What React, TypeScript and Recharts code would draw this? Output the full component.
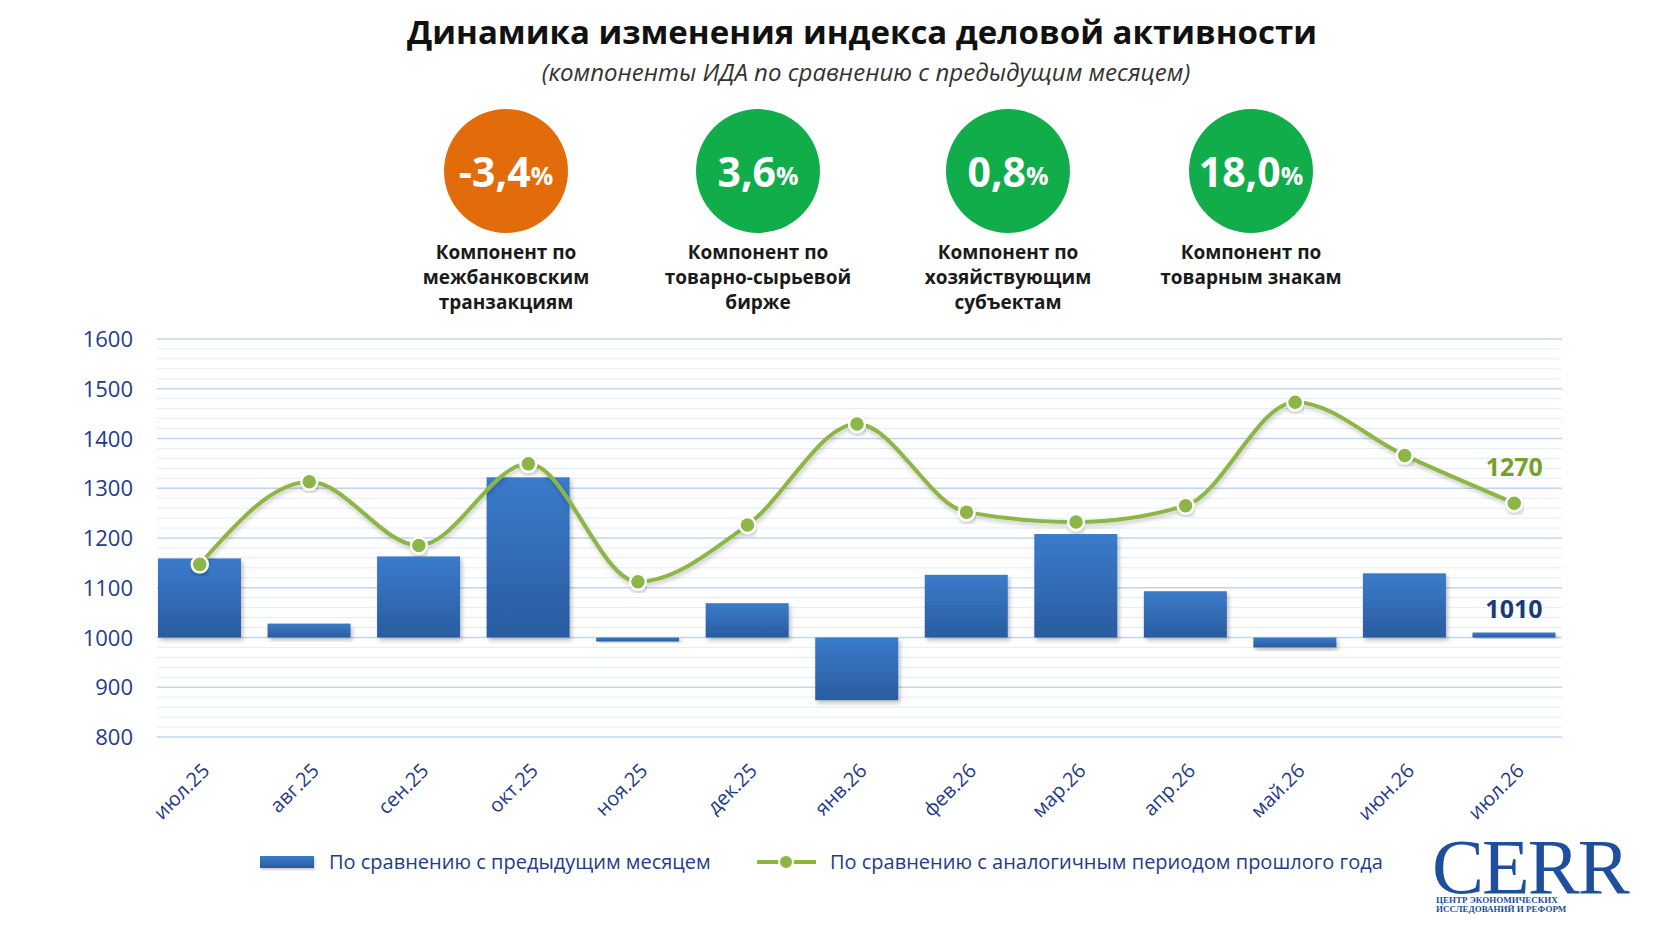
import React from 'react';
import { ComposedChart, Bar, Line, XAxis, YAxis, CartesianGrid, LabelList } from 'recharts';

// Месяцы и значения
const months = ['июл.25', 'авг.25', 'сен.25', 'окт.25', 'ноя.25', 'дек.25', 'янв.26', 'фев.26', 'мар.26', 'апр.26', 'май.26', 'июн.26', 'июл.26'];
const momValues = [1159, 1028, 1163, 1322, 992, 1069, 874, 1126, 1208, 1093, 980, 1129, 1010];
const yoyValues = [1147, 1313, 1185, 1349, 1112, 1226, 1429, 1252, 1232, 1265, 1473, 1366, 1270];
const yMajorTicks = [800, 900, 1000, 1100, 1200, 1300, 1400, 1500, 1600];
const BASE = 1000;

// Компоненты ИДА
const kpiValues = ['-3,4', '3,6', '0,8', '18,0'];
const kpiColors = ['#e36c0a', '#12ad4b', '#12ad4b', '#12ad4b'];
const kpiLabels = [
    ['Компонент по', 'межбанковским', 'транзакциям'],
    ['Компонент по', 'товарно-сырьевой', 'бирже'],
    ['Компонент по', 'хозяйствующим', 'субъектам'],
    ['Компонент по', 'товарным знакам'],
];
const kpiCenters = [506, 758, 1008, 1251];

const legendLabels = ['По сравнению с предыдущим месяцем', 'По сравнению с аналогичным периодом прошлого года'];

const W = 1672;
const H = 941;
const PLOT_TOP = 339;
const PLOT_BOTTOM = 737;
const GRID_X1 = 157;
const GRID_X2 = 1562;
const NAVY = '#1f3c88';
const GREEN = '#8cb644';
const FONT = '"Open Sans", "Noto Sans", sans-serif';

const data = months.map((m, i) => ({ month: m, mom: [BASE, momValues[i]], yoy: yoyValues[i] }));

// линии сетки: основные каждые 100, вспомогательные каждые 20
const yTicks = yMajorTicks.flatMap((t, i) => (i === yMajorTicks.length - 1 ? [t] : [t, t + 20, t + 40, t + 60, t + 80]));

const gridLine = (props: any) => {
    const v = 1600 - ((props.y1 - PLOT_TOP) / (PLOT_BOTTOM - PLOT_TOP)) * 800;
    const major = Math.round(v / 20) % 5 === 0;
    return (
        <line
            key={props.key}
            x1={GRID_X1}
            x2={GRID_X2}
            y1={props.y1}
            y2={props.y2}
            stroke={major ? '#c3d6ef' : '#e3ecf8'}
            strokeWidth={major ? 1.6 : 1}
        />
    );
};

const YTick = (props: any) => {
    const { x, y, payload } = props;
    if (payload.value % 100 !== 0) return null;
    return (
        <text x={x} y={y} dy={8} textAnchor="end" fill={NAVY} fontSize={22} fontFamily={FONT}>
            {payload.value}
        </text>
    );
};

const XTick = (props: any) => {
    const { x, y, payload } = props;
    const tx = x + 11;
    const ty = y + 35;
    return (
        <text x={tx} y={ty} textAnchor="end" fill={NAVY} fontSize={20} fontFamily={FONT} transform={`rotate(-45 ${tx} ${ty})`}>
            {payload.value}
        </text>
    );
};

const BarShape = (props: any) => {
    const { x, y, width, height } = props;
    const top = height < 0 ? y + height : y;
    const h = Math.abs(height);
    return <rect x={x} y={top} width={width} height={h} fill="url(#barGrad)" filter="url(#barShadow)" />;
};

const lastIndex = months.length - 1;

const MomLabel = (props: any) => {
    const { x, y, width, index } = props;
    if (index !== lastIndex) return null;
    return (
        <text x={x + width / 2} y={y - 15} textAnchor="middle" fill="#1b3a7a" fontSize={25} fontWeight={700} fontFamily={FONT}>
            {momValues[index]}
        </text>
    );
};

const YoyLabel = (props: any) => {
    const { x, y, index } = props;
    if (index !== lastIndex) return null;
    return (
        <text x={x} y={y - 27} textAnchor="middle" fill="#76a02c" fontSize={25} fontWeight={700} fontFamily={FONT}>
            {yoyValues[index]}
        </text>
    );
};

export default function App() {
    return (
        <div style={{ position: 'absolute', left: 0, top: 0, width: W, height: H, background: '#fff', overflow: 'hidden', fontFamily: FONT }}>
            <ComposedChart
                width={W}
                height={H}
                data={data}
                margin={{ top: PLOT_TOP, right: 103, bottom: H - PLOT_BOTTOM - 60, left: 0 }}
                style={{ position: 'absolute', left: 0, top: 0 }}
            >
                <defs>
                    <linearGradient id="barGrad" x1="0" y1="0" x2="0" y2="1">
                        <stop offset="0%" stopColor="#3a7bcb" />
                        <stop offset="100%" stopColor="#2a5c9f" />
                    </linearGradient>
                    <filter id="barShadow" x="-10%" y="-10%" width="130%" height="140%">
                        <feDropShadow dx="2" dy="3" stdDeviation="2" floodColor="#000" floodOpacity="0.25" />
                    </filter>
                    <filter id="lineShadow" x="-5%" y="-10%" width="110%" height="130%">
                        <feDropShadow dx="1" dy="3" stdDeviation="2" floodColor="#000" floodOpacity="0.2" />
                    </filter>
                </defs>
                <CartesianGrid vertical={false} horizontal={gridLine} />
                <XAxis dataKey="month" axisLine={false} tickLine={false} tickSize={0} tickMargin={0} height={60} interval={0} tick={<XTick />} />
                <YAxis
                    domain={[800, 1600]}
                    ticks={yTicks}
                    interval={0}
                    width={145}
                    axisLine={false}
                    tickLine={false}
                    tickSize={0}
                    tickMargin={12}
                    tick={<YTick />}
                />
                <Bar dataKey="mom" barSize={83} shape={<BarShape />} isAnimationActive={false}>
                    <LabelList dataKey="mom" content={<MomLabel />} />
                </Bar>
                <Line
                    type="monotone"
                    dataKey="yoy"
                    stroke={GREEN}
                    strokeWidth={4}
                    dot={{ r: 8, fill: GREEN, stroke: '#fff', strokeWidth: 2.5 }}
                    style={{ filter: 'url(#lineShadow)' }}
                    isAnimationActive={false}
                >
                    <LabelList dataKey="yoy" content={<YoyLabel />} />
                </Line>
            </ComposedChart>

            {/* заголовок */}
            <div style={{ position: 'absolute', left: 362, width: 1000, top: 12, height: 40, lineHeight: '40px', textAlign: 'center', fontSize: 33, fontWeight: 700, color: '#111' }}>
                Динамика изменения индекса деловой активности
            </div>
            <div style={{ position: 'absolute', left: 466, width: 800, top: 56, height: 32, lineHeight: '32px', textAlign: 'center', fontSize: 24, fontStyle: 'italic', color: '#333' }}>
                (компоненты ИДА по сравнению с предыдущим месяцем)
            </div>

            {/* кружки с компонентами */}
            {kpiValues.map((v, i) => (
                <React.Fragment key={i}>
                    <div
                        style={{
                            position: 'absolute',
                            left: kpiCenters[i] - 62,
                            top: 171 - 62,
                            width: 124,
                            height: 124,
                            borderRadius: '50%',
                            background: kpiColors[i],
                            display: 'flex',
                            alignItems: 'center',
                            justifyContent: 'center',
                            color: '#fff',
                            fontWeight: 700,
                        }}
                    >
                        <span style={{ fontSize: 41, lineHeight: 1 }}>{v}</span>
                        <span style={{ fontSize: 25, lineHeight: 1, marginTop: 8 }}>%</span>
                    </div>
                    <div
                        style={{
                            position: 'absolute',
                            left: kpiCenters[i] - 120,
                            width: 240,
                            top: 240,
                            textAlign: 'center',
                            fontSize: 19,
                            lineHeight: '25px',
                            fontWeight: 700,
                            color: '#1a1a1a',
                        }}
                    >
                        {kpiLabels[i].map((l, j) => (
                            <div key={j}>{l}</div>
                        ))}
                    </div>
                </React.Fragment>
            ))}

            {/* легенда */}
            <div style={{ position: 'absolute', left: 260, top: 856, width: 54, height: 12, background: 'linear-gradient(#3a7bcb, #2a5c9f)', boxShadow: '1px 2px 2px rgba(0,0,0,0.2)' }} />
            <div style={{ position: 'absolute', left: 329, top: 847, height: 30, lineHeight: '30px', fontSize: 20, color: NAVY, whiteSpace: 'nowrap' }}>
                {legendLabels[0]}
            </div>
            <div style={{ position: 'absolute', left: 757, top: 860, width: 59, height: 4, background: GREEN }} />
            <div style={{ position: 'absolute', left: 778, top: 854, width: 16, height: 16, borderRadius: '50%', background: GREEN, boxSizing: 'border-box', border: '2px solid #fff' }} />
            <div style={{ position: 'absolute', left: 830, top: 847, height: 30, lineHeight: '30px', fontSize: 20, color: NAVY, whiteSpace: 'nowrap' }}>
                {legendLabels[1]}
            </div>

            {/* логотип */}
            <div style={{ position: 'absolute', left: 1432, top: 839, height: 56, fontFamily: '"Liberation Serif", "DejaVu Serif", serif', fontSize: 78, lineHeight: '56px', color: '#1d4f9c', letterSpacing: -2 }}>
                CERR
            </div>
            <div style={{ position: 'absolute', left: 1436, top: 896, fontFamily: '"Liberation Serif", serif', fontSize: 9, lineHeight: '9px', color: '#1d4f9c', fontWeight: 700 }}>
                <div>ЦЕНТР ЭКОНОМИЧЕСКИХ</div>
                <div>ИССЛЕДОВАНИЙ И РЕФОРМ</div>
            </div>
        </div>
    );
}
